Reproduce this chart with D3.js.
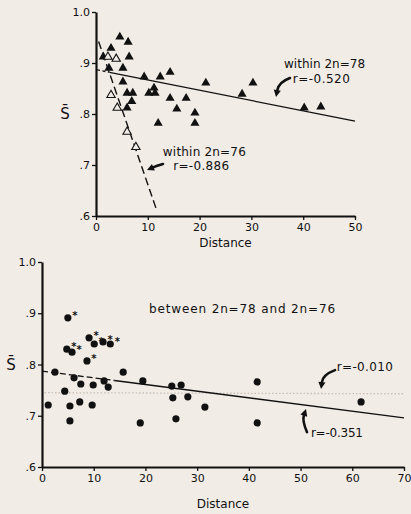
<!DOCTYPE html>
<html>
<head>
<meta charset="utf-8">
<script src="https://cdnjs.cloudflare.com/ajax/libs/d3/7.8.5/d3.min.js"></script>
<style>
body { margin: 0; background: #f2ece6; }
svg { display: block; }
.axis path, .axis line { stroke: #111; }
.axis text { font-family: "DejaVu Sans"; font-size: 11px; fill: #111; }
.note { font-family: "DejaVu Sans"; font-size: 12px; fill: #111; }
.sbar { font-family: "DejaVu Sans"; font-size: 15px; fill: #111; }
</style>
</head>
<body>
<div id="graph"></div>
<script>
"use strict";

// within 2n=78 (filled triangles)
var within78Dist = [4.6, 6.2, 2.9, 6.4, 1.4, 2.5, 5.2, 9.3, 12.4, 14.3, 21.2, 5.2, 11.2, 6.0, 7.1,
  10.2, 11.4, 6.9, 14.3, 17.4, 6.0, 15.6, 19.1, 12.0, 19.1, 28.2, 30.3, 40.2, 43.4];
var within78S = [0.951, 0.941, 0.929, 0.912, 0.912, 0.890, 0.890, 0.873, 0.873, 0.882, 0.861, 0.863, 0.851, 0.841, 0.841,
  0.841, 0.841, 0.825, 0.831, 0.831, 0.812, 0.810, 0.802, 0.782, 0.782, 0.839, 0.861, 0.812, 0.814];

// within 2n=76 (open triangles)
var within76Dist = [2.3, 3.9, 2.9, 4.1, 6.0, 7.7];
var within76S = [0.912, 0.908, 0.837, 0.812, 0.765, 0.735];

// between 2n=78 and 2n=76 (dots, 1 = marked with asterisk)
var betweenDist = [5.0, 4.8, 5.8, 9.1, 10.1, 11.8, 13.2, 8.7, 2.5, 6.2, 7.5, 9.9, 12.0, 12.8, 15.7, 19.5,
  25.1, 26.9, 4.4, 1.2, 5.4, 7.3, 9.7, 5.4, 25.3, 28.2, 31.5, 19.0, 25.9, 41.6, 41.6, 61.7];
var betweenS = [0.891, 0.830, 0.824, 0.852, 0.840, 0.844, 0.840, 0.807, 0.785, 0.774, 0.762, 0.760, 0.768, 0.756, 0.785, 0.768,
  0.758, 0.760, 0.748, 0.721, 0.719, 0.727, 0.721, 0.690, 0.735, 0.737, 0.717, 0.686, 0.694, 0.766, 0.686, 0.727];
var betweenStar = [1, 1, 1, 1, 1, 1, 1, 1, 0, 0, 0, 0, 0, 0, 0, 0,
  0, 0, 0, 0, 0, 0, 0, 0, 0, 0, 0, 0, 0, 0, 0, 0];

// fitted lines: [intercept, slope]
var fit78 = [0.887, -0.00202];
var fit76 = [0.957, -0.0295];
var fitBetween = [0.787, -0.0013];
var fitBetweenFlat = [0.745, -0.00003];

// ticks
var sTicks = [0.6, 0.7, 0.8, 0.9, 1.0];
var sTickLabels = [".6", ".7", ".8", ".9", "1.0"];
var distTicksTop = [0, 10, 20, 30, 40, 50];
var distTicksBottom = [0, 10, 20, 30, 40, 50, 60, 70];

var W = 411, H = 514, INK = "#111", BG = "#f2ece6";

var svg = d3.select("#graph").append("svg")
  .attr("width", W)
  .attr("height", H);

svg.append("rect").attr("width", W).attr("height", H).attr("fill", BG);

function zip(xs, ys) {
  return xs.map(function (d, i) { return {d: d, s: ys[i], i: i}; });
}

// one panel: scales + axes
function panel(left, right, y0, y1, maxDist, distTicks, labelY) {
  var x = d3.scaleLinear().domain([0, maxDist]).range([left, right]);
  var y = d3.scaleLinear().domain([0.6, 1.0]).range([y1, y0]);
  var g = svg.append("g");

  g.append("g")
      .attr("class", "axis")
      .attr("transform", "translate(0," + y1 + ")")
      .call(d3.axisBottom(x).tickValues(distTicks).tickSize(4).tickSizeOuter(0).tickPadding(3))
    .call(function (a) { a.select(".domain").attr("stroke-width", 2.2); a.selectAll(".tick line").attr("stroke-width", 1.3); });

  g.append("g")
      .attr("class", "axis")
      .attr("transform", "translate(" + left + ",0)")
      .call(d3.axisLeft(y).tickValues(sTicks).tickSize(4).tickSizeOuter(0).tickPadding(2)
        .tickFormat(function (d, i) { return sTickLabels[i]; }))
    .call(function (a) { a.select(".domain").attr("stroke-width", 2.2); a.selectAll(".tick line").attr("stroke-width", 1.3); });

  g.append("text")
    .attr("class", "sbar")
    .attr("x", left - 31)
    .attr("y", y(0.8) + 5)
    .attr("text-anchor", "middle")
    .text("S\u0304");

  g.append("text")
    .attr("class", "note")
    .attr("x", x(maxDist / 2))
    .attr("y", labelY)
    .attr("text-anchor", "middle")
    .text("Distance");

  return {g: g, x: x, y: y};
}

function fitLine(p, fit, from, to, dash, width, color) {
  p.g.append("line")
    .attr("x1", p.x(from)).attr("y1", p.y(fit[0] + fit[1] * from))
    .attr("x2", p.x(to)).attr("y2", p.y(fit[0] + fit[1] * to))
    .attr("stroke", color || INK)
    .attr("stroke-width", width)
    .attr("stroke-dasharray", dash);
}

// curved arrow: tail, control, tip in data units
function arrow(p, t, c, h) {
  var x0 = p.x(t[0]), y0 = p.y(t[1]), cx = p.x(c[0]), cy = p.y(c[1]), x1 = p.x(h[0]), y1 = p.y(h[1]);
  var ang = Math.atan2(y1 - cy, x1 - cx);
  var len = 7, half = 3.6;
  var bx = x1 - len * Math.cos(ang), by = y1 - len * Math.sin(ang);
  p.g.append("path")
    .attr("d", "M" + x0 + "," + y0 + "Q" + cx + "," + cy + " " + bx + "," + by)
    .attr("fill", "none")
    .attr("stroke", INK)
    .attr("stroke-width", 2.6)
    .attr("stroke-linecap", "round");
  p.g.append("path")
    .attr("d", "M" + x1 + "," + y1 +
      "L" + (bx + half * Math.sin(ang)) + "," + (by - half * Math.cos(ang)) +
      "L" + (bx - half * Math.sin(ang)) + "," + (by + half * Math.cos(ang)) + "Z")
    .attr("fill", INK);
}

// label text, stretched to the width it has in the figure
function note(p, d, s, txt, w) {
  p.g.append("text")
    .attr("class", "note")
    .attr("x", p.x(d))
    .attr("y", p.y(s))
    .attr("textLength", w)
    .attr("lengthAdjust", "spacing")
    .text(txt);
}

//upper panel
var upper = panel(96, 355, 12, 216, 50, distTicksTop, 247);

fitLine(upper, fit78, 0.2, 2.6, "3,2.5", 1.3);
fitLine(upper, fit78, 2.6, 50, null, 1.3);
fitLine(upper, fit76, 0.5, 11.7, "8,4", 1.4);

var tri = d3.symbol().type(d3.symbolTriangle).size(36);

upper.g.selectAll(".t78")
  .data(zip(within78Dist, within78S))
  .enter().append("path")
    .attr("d", tri)
    .attr("transform", function (d) { return "translate(" + upper.x(d.d) + "," + upper.y(d.s) + ")"; })
    .attr("fill", INK);

upper.g.selectAll(".t76")
  .data(zip(within76Dist, within76S))
  .enter().append("path")
    .attr("d", d3.symbol().type(d3.symbolTriangle).size(30))
    .attr("transform", function (d) { return "translate(" + upper.x(d.d) + "," + upper.y(d.s) + ")"; })
    .attr("fill", BG)
    .attr("stroke", INK)
    .attr("stroke-width", 1.1);

note(upper, 36.3, 0.890, "within  2n=78", 81);
note(upper, 38.0, 0.861, "r=-0.520", 57);
arrow(upper, [37.45, 0.8706], [35.3, 0.8627], [34.75, 0.8333]);

note(upper, 12.9, 0.718, "within  2n=76", 83);
note(upper, 14.9, 0.690, "r=-0.886", 56);
arrow(upper, [12.93, 0.702], [11.6, 0.698], [9.85, 0.690]);

//lower panel
var lower = panel(42, 404, 262, 467, 70, distTicksBottom, 508);

fitLine(lower, fitBetweenFlat, 0.5, 70, "1.5,2", 1.3, "#c4beb6");
fitLine(lower, fitBetween, 0, 14, "6,3", 1.3);
fitLine(lower, fitBetween, 14, 70, null, 1.3);

var pts = zip(betweenDist, betweenS);

lower.g.selectAll(".dot")
  .data(pts)
  .enter().append("circle")
    .attr("cx", function (d) { return lower.x(d.d); })
    .attr("cy", function (d) { return lower.y(d.s); })
    .attr("r", 3.6)
    .attr("fill", INK);

lower.g.selectAll(".star")
  .data(pts.filter(function (d) { return betweenStar[d.i]; }))
  .enter().append("text")
    .attr("x", function (d) { return lower.x(d.d) + 7; })
    .attr("y", function (d) { return lower.y(d.s) + 1; })
    .attr("text-anchor", "middle")
    .style("font-family", "DejaVu Sans")
    .style("font-size", "10px")
    .style("font-weight", "bold")
    .attr("fill", INK)
    .text("*");

note(lower, 20.7, 0.900, "between  2n=78  and  2n=76", 186);
note(lower, 57.0, 0.787, "r=-0.010", 56);
arrow(lower, [56.66, 0.789], [54.3, 0.780], [53.96, 0.752]);
note(lower, 52.0, 0.659, "r=-0.351", 52);
arrow(lower, [51.25, 0.668], [50.3, 0.690], [51.05, 0.713]);
</script>
</body>
</html>
